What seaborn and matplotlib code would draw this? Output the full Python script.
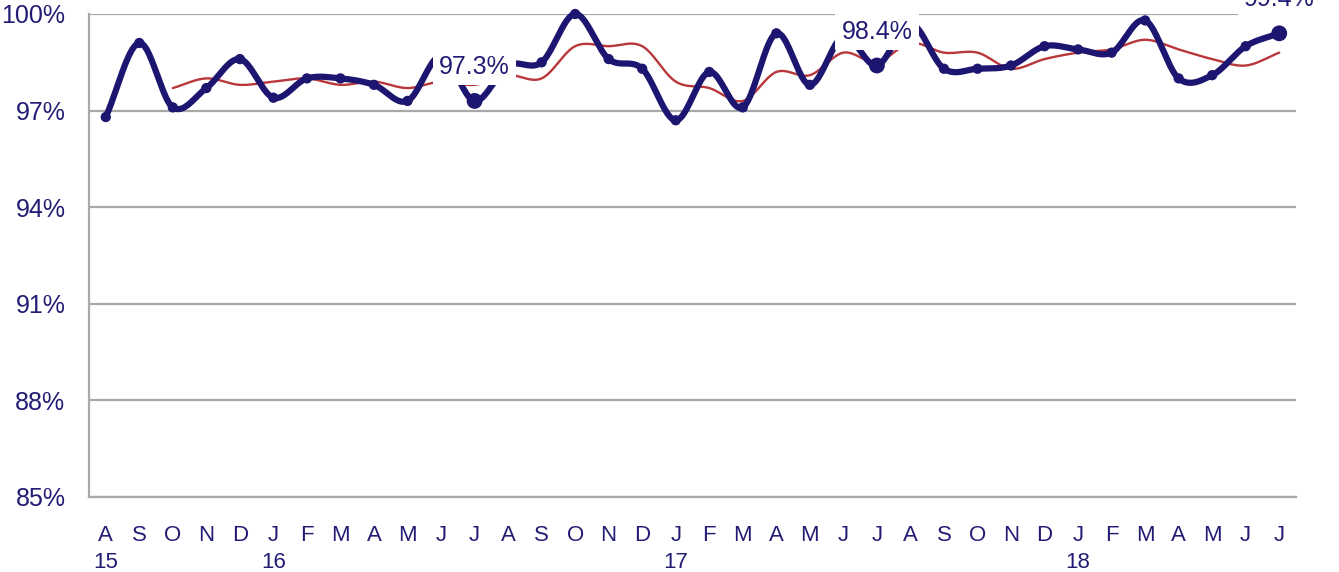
import numpy as np
import pandas as pd
import matplotlib
matplotlib.use("Agg")
import matplotlib.pyplot as plt
import seaborn as sns

# Monthly rate, Aug 2015 - Jul 2018
months = ["A", "S", "O", "N", "D",
          "J", "F", "M", "A", "M", "J", "J", "A", "S", "O", "N", "D",
          "J", "F", "M", "A", "M", "J", "J", "A", "S", "O", "N", "D",
          "J", "F", "M", "A", "M", "J", "J"]
years = {0: "15", 5: "16", 17: "17", 29: "18"}

monthly = [96.8, 99.1, 97.1, 97.7, 98.6,
           97.4, 98.0, 98.0, 97.8, 97.3, 98.7, 97.3, 98.4, 98.5, 100.0, 98.6, 98.3,
           96.7, 98.2, 97.1, 99.4, 97.8, 99.3, 98.4, 99.7, 98.3, 98.3, 98.4, 99.0,
           98.9, 98.8, 99.8, 98.0, 98.1, 99.0, 99.4]

# 3-month rolling average (starts at the third month)
rolling = [np.nan, np.nan,
           97.7, 98.0, 97.8,
           97.9, 98.0, 97.8, 97.9, 97.7, 97.9, 97.8, 98.1, 98.0, 99.0, 99.0, 99.0,
           97.9, 97.7, 97.3, 98.2, 98.1, 98.8, 98.5, 99.1, 98.8, 98.8, 98.3, 98.6,
           98.8, 98.9, 99.2, 98.9, 98.6, 98.4, 98.8]

labelled = [11, 23, 35]

NAVY = "#1d1670"
RED = "#b8373a"
GRID = "#a8a8a8"
TEXT = "#231c74"


def smooth(x, y, n=24):
    """Catmull-Rom curve through the points (x, y)."""
    x = np.asarray(x, float)
    y = np.asarray(y, float)
    px = np.concatenate([[2 * x[0] - x[1]], x, [2 * x[-1] - x[-2]]])
    py = np.concatenate([[2 * y[0] - y[1]], y, [2 * y[-1] - y[-2]]])
    xs, ys = [], []
    t = np.linspace(0, 1, n, endpoint=False)
    for i in range(1, len(px) - 2):
        for p, out in ((px, xs), (py, ys)):
            p0, p1, p2, p3 = p[i - 1], p[i], p[i + 1], p[i + 2]
            out.append(0.5 * ((2 * p1) + (-p0 + p2) * t
                              + (2 * p0 - 5 * p1 + 4 * p2 - p3) * t ** 2
                              + (-p0 + 3 * p1 - 3 * p2 + p3) * t ** 3))
    xs = np.concatenate(xs + [[x[-1]]])
    ys = np.concatenate(ys + [[y[-1]]])
    return xs, ys


sns.set_style("white")
plt.rcParams["font.family"] = ["Liberation Sans Narrow", "Liberation Sans", "DejaVu Sans"]

df = pd.DataFrame({"pos": np.arange(len(months)), "monthly": monthly, "rolling": rolling})

fig = plt.figure(figsize=(13.39, 5.72), dpi=100)
ax = fig.add_axes([89 / 1339, 1 - 497 / 572, (1296 - 89) / 1339, (497 - 14) / 572])

# Smoothed curves
mx, my = smooth(df["pos"], df["monthly"])
r = df.dropna(subset=["rolling"])
rx, ry = smooth(r["pos"], r["rolling"])
sns.lineplot(x=rx, y=ry, ax=ax, color=RED, linewidth=1.7, sort=False, zorder=3)
sns.lineplot(x=mx, y=my, ax=ax, color=NAVY, linewidth=4.5, sort=False, zorder=4)
for ln in ax.get_lines():
    ln.set_clip_on(False)

# Point markers
sns.scatterplot(data=df, x="pos", y="monthly", ax=ax, color=NAVY, s=55,
                edgecolor="none", zorder=5, clip_on=False)
big = df.loc[labelled]
sns.scatterplot(data=big, x="pos", y="monthly", ax=ax, color=NAVY, s=130,
                edgecolor="none", zorder=5, clip_on=False)

# Value labels on white boxes
for i in labelled:
    v = monthly[i]
    ax.annotate(f"{v:.1f}%", (i, v), xytext=(0, 34), textcoords="offset pixels",
                ha="center", va="center", fontsize=18, color=TEXT, zorder=10,
                annotation_clip=False,
                bbox=dict(boxstyle="square,pad=0.25", fc="white", ec="none"))

ax.set_xlim(-0.5, len(months) - 0.5)
ax.set_ylim(85, 100)
ax.set_xlabel("")
ax.set_ylabel("")

yt = np.arange(85, 101, 3)
ax.set_yticks(yt)
ax.set_yticklabels([f"{t}%" for t in yt])
ax.yaxis.grid(True, color=GRID, linewidth=1.6, zorder=0)
ax.set_axisbelow(True)

ax.set_xticks(np.arange(len(months)))
ax.set_xticklabels([m + ("\n" + years[i] if i in years else "") for i, m in enumerate(months)],
                   linespacing=1.4)
ax.set_xticks(np.arange(len(months) + 1) - 0.5, minor=True)
ax.tick_params(axis="x", which="major", length=0, pad=20, labelsize=16, labelcolor=TEXT)
ax.tick_params(axis="x", which="minor", length=6, width=1.6, color=GRID, direction="out")
ax.tick_params(axis="y", length=6, width=1.6, color=GRID, pad=11, labelsize=18, labelcolor=TEXT)

for s in ("top", "right"):
    ax.spines[s].set_visible(False)
for s in ("left", "bottom"):
    ax.spines[s].set_color(GRID)
    ax.spines[s].set_linewidth(1.6)

fig.savefig("out.png", dpi=100)
